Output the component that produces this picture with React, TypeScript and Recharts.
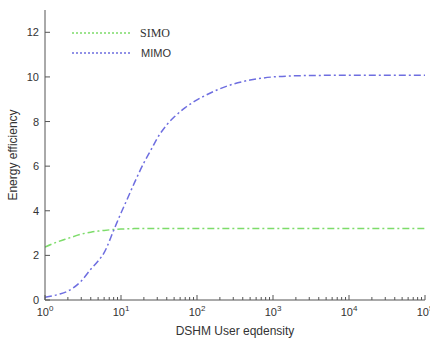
import React from 'react';
import { LineChart, Line, XAxis, YAxis } from 'recharts';

const xValues = [1, 1.5, 2, 3, 4, 5, 6, 8, 10, 12, 15, 20, 25, 30, 40, 50, 70, 100, 150, 200, 300, 500, 1000, 2000, 5000, 10000, 20000, 50000, 100000];
const simo = [2.37, 2.62, 2.76, 2.95, 3.04, 3.09, 3.12, 3.16, 3.18, 3.19, 3.2, 3.2, 3.2, 3.2, 3.2, 3.2, 3.2, 3.2, 3.2, 3.2, 3.2, 3.2, 3.2, 3.2, 3.2, 3.2, 3.2, 3.2, 3.2];
const mimo = [0.12, 0.25, 0.4, 0.85, 1.38, 1.75, 2.12, 3.12, 3.9, 4.5, 5.25, 6.15, 6.75, 7.25, 7.85, 8.2, 8.62, 8.97, 9.28, 9.47, 9.68, 9.86, 10.0, 10.05, 10.07, 10.07, 10.07, 10.07, 10.07];
const majorXTicks = [1, 10, 100, 1000, 10000, 100000];
const minorMultipliers = [2, 3, 4, 5, 6, 7, 8, 9];
const yTicks = [0, 2, 4, 6, 8, 10, 12];
const seriesNames = ['SIMO', 'MIMO'];

const allXTicks: number[] = [];
majorXTicks.forEach((m, i) => {
  allXTicks.push(m);
  if (i < majorXTicks.length - 1) minorMultipliers.forEach((k) => allXTicks.push(m * k));
});

const data = xValues.map((x, i) => ({ x, simo: simo[i], mimo: mimo[i] }));

const SIMO_COLOR = '#7ddc6a';
const MIMO_COLOR = '#6e6ee0';
const AXIS_COLOR = '#555';
const TEXT_COLOR = '#333';
const SANS = 'Liberation Sans, Arial, sans-serif';

const isMajor = (v: number) => Math.abs(Math.log10(v) - Math.round(Math.log10(v))) < 1e-9;

const BottomTick = (props: any) => {
  const { x, y, payload } = props;
  const v = payload.value;
  const major = isMajor(v);
  const len = major ? 5 : 3;
  return (
    <g>
      <line x1={x} y1={y} x2={x} y2={y - len} stroke={AXIS_COLOR} strokeWidth={1} />
      {major && (
        <text x={x} y={y + 16} textAnchor="middle" fill={TEXT_COLOR} fontSize={11} fontFamily={SANS}>
          <tspan>10</tspan>
          <tspan dy={-5} fontSize={8}>{Math.round(Math.log10(v))}</tspan>
        </text>
      )}
    </g>
  );
};

const TopTick = (props: any) => {
  const { x, y, payload } = props;
  const len = isMajor(payload.value) ? 5 : 3;
  return <line x1={x} y1={y} x2={x} y2={y + len} stroke={AXIS_COLOR} strokeWidth={1} />;
};

const LeftTick = (props: any) => {
  const { x, y, payload } = props;
  return (
    <g>
      <line x1={x} y1={y} x2={x + 5} y2={y} stroke={AXIS_COLOR} strokeWidth={1} />
      <text x={x - 6} y={y + 4} textAnchor="end" fill={TEXT_COLOR} fontSize={11} fontFamily={SANS}>
        {payload.value}
      </text>
    </g>
  );
};

const RightTick = (props: any) => {
  const { x, y } = props;
  return <line x1={x} y1={y} x2={x - 5} y2={y} stroke={AXIS_COLOR} strokeWidth={1} />;
};

const LegendOverlay = () => (
  <svg width={120} height={40} style={{ position: 'absolute', left: 70, top: 25, display: 'block' }}>
    <line x1={2} y1={8} x2={60} y2={8} stroke={SIMO_COLOR} strokeWidth={1.5} strokeDasharray="2 2" />
    <text x={70} y={12} fontSize={12} fill={TEXT_COLOR} fontFamily="Liberation Serif, Times New Roman, serif">{seriesNames[0]}</text>
    <line x1={2} y1={28} x2={60} y2={28} stroke={MIMO_COLOR} strokeWidth={1.5} strokeDasharray="2 2" />
    <text x={71} y={32} fontSize={11} fill={TEXT_COLOR} fontFamily={SANS}>{seriesNames[1]}</text>
  </svg>
);

export default function App() {
  return (
    <div style={{ position: 'absolute', left: 0, top: 0, width: 430, height: 339, background: '#fff' }}>
      <LineChart width={430} height={339} data={data} margin={{ top: 10, right: 5, left: 0, bottom: 0 }}>
        <XAxis
          dataKey="x"
          type="number"
          scale="log"
          domain={[1, 100000]}
          ticks={allXTicks}
          interval={0}
          allowDataOverflow
          height={39}
          tickSize={0}
          tickMargin={0}
          tick={<BottomTick />}
          stroke={AXIS_COLOR}
          label={{ value: 'DSHM User eqdensity', position: 'insideBottom', offset: 4, fill: TEXT_COLOR, fontSize: 12, fontFamily: SANS }}
        />
        <XAxis
          xAxisId="top"
          orientation="top"
          dataKey="x"
          type="number"
          scale="log"
          domain={[1, 100000]}
          ticks={allXTicks}
          interval={0}
          allowDataOverflow
          height={0}
          tickSize={0}
          tickMargin={0}
          tick={<TopTick />}
          stroke={AXIS_COLOR}
        />
        <YAxis
          type="number"
          domain={[0, 13]}
          ticks={yTicks}
          interval={0}
          width={45}
          tickSize={0}
          tickMargin={0}
          tick={<LeftTick />}
          stroke={AXIS_COLOR}
          label={{ value: 'Energy efficiency', angle: -90, position: 'insideLeft', offset: 13, style: { textAnchor: 'middle' }, fill: TEXT_COLOR, fontSize: 12, fontFamily: SANS }}
        />
        <YAxis
          yAxisId="right"
          orientation="right"
          type="number"
          domain={[0, 13]}
          ticks={yTicks}
          interval={0}
          width={0}
          tickSize={0}
          tickMargin={0}
          tick={<RightTick />}
          stroke={AXIS_COLOR}
        />
        <Line type="monotone" dataKey="simo" name="SIMO" stroke={SIMO_COLOR} strokeWidth={1.5} strokeDasharray="7 3 2 3" dot={false} isAnimationActive={false} />
        <Line type="monotone" dataKey="mimo" name="MIMO" stroke={MIMO_COLOR} strokeWidth={1.5} strokeDasharray="7 3 2 3" dot={false} isAnimationActive={false} />
      </LineChart>
      <LegendOverlay />
    </div>
  );
}
